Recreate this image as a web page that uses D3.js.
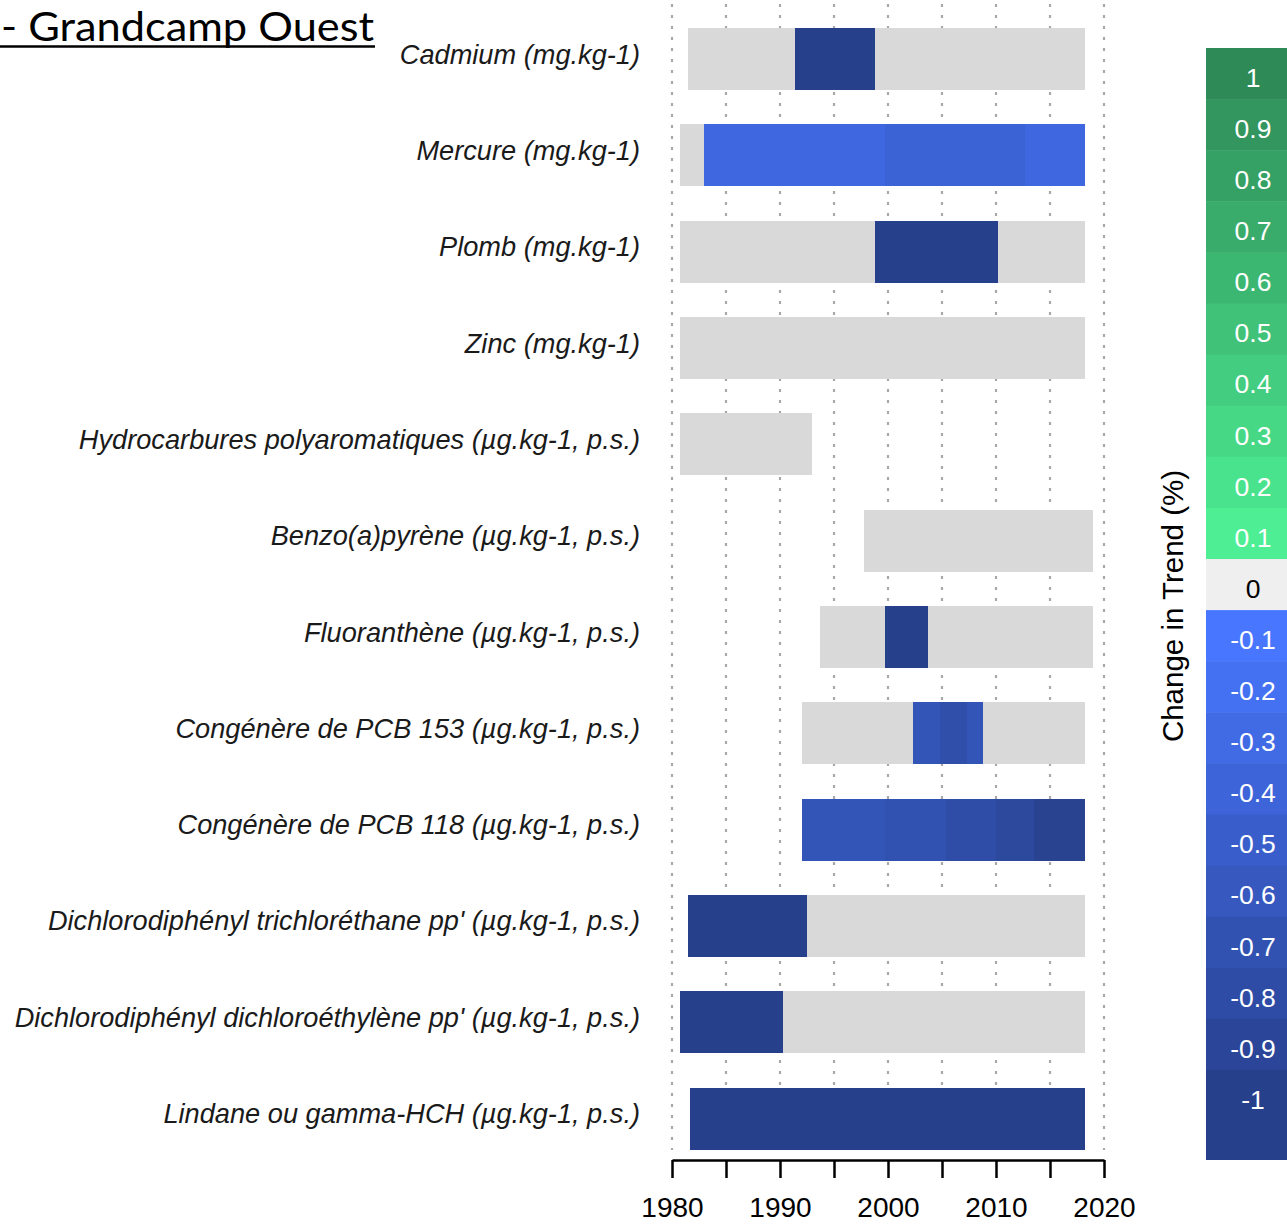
<!DOCTYPE html>
<html><head><meta charset="utf-8">
<script src="https://cdn.jsdelivr.net/npm/d3@7"></script>
<style>body{margin:0;background:#fff}svg{display:block}</style>
</head><body>
<script>
const title = "- Grandcamp Ouest";
const categories = [
 "Cadmium (mg.kg-1)",
 "Mercure (mg.kg-1)",
 "Plomb (mg.kg-1)",
 "Zinc (mg.kg-1)",
 "Hydrocarbures polyaromatiques (µg.kg-1, p.s.)",
 "Benzo(a)pyrène (µg.kg-1, p.s.)",
 "Fluoranthène (µg.kg-1, p.s.)",
 "Congénère de PCB 153 (µg.kg-1, p.s.)",
 "Congénère de PCB 118 (µg.kg-1, p.s.)",
 "Dichlorodiphényl trichloréthane pp' (µg.kg-1, p.s.)",
 "Dichlorodiphényl dichloroéthylène pp' (µg.kg-1, p.s.)",
 "Lindane ou gamma-HCH (µg.kg-1, p.s.)"
];
// segments: [category index, start year, end year, change in trend]
const segments = [
 [0, 1981.5, 1991.4, 0], [0, 1991.4, 1998.8, -1], [0, 1998.8, 2018.2, 0],
 [1, 1980.7, 1983.0, 0], [1, 1983.0, 1999.7, -0.35], [1, 1999.7, 2012.7, -0.42], [1, 2012.7, 2018.2, -0.35],
 [2, 1980.7, 1998.8, 0], [2, 1998.8, 2010.2, -1], [2, 2010.2, 2018.2, 0],
 [3, 1980.7, 2018.2, 0],
 [4, 1980.7, 1993.0, 0],
 [5, 1997.8, 2019.0, 0],
 [6, 1993.7, 1999.7, 0], [6, 1999.7, 2003.7, -1], [6, 2003.7, 2019.0, 0],
 [7, 1992.0, 2002.3, 0], [7, 2002.3, 2004.8, -0.65], [7, 2004.8, 2007.3, -0.75], [7, 2007.3, 2008.8, -0.65], [7, 2008.8, 2018.2, 0],
 [8, 1992.0, 1999.7, -0.65], [8, 1999.7, 2005.4, -0.7], [8, 2005.4, 2010.0, -0.78], [8, 2010.0, 2013.5, -0.85], [8, 2013.5, 2018.2, -0.95],
 [9, 1981.5, 1992.5, -1], [9, 1992.5, 2018.2, 0],
 [10, 1980.7, 1990.3, -1], [10, 1990.3, 2018.2, 0],
 [11, 1981.7, 2018.2, -1]
];
const xTicks = [1980, 1985, 1990, 1995, 2000, 2005, 2010, 2015, 2020];
const legendValues = [1, 0.9, 0.8, 0.7, 0.6, 0.5, 0.4, 0.3, 0.2, 0.1, 0, -0.1, -0.2, -0.3, -0.4, -0.5, -0.6, -0.7, -0.8, -0.9, -1];
const legendLabels = ["1","0.9","0.8","0.7","0.6","0.5","0.4","0.3","0.2","0.1","0","-0.1","-0.2","-0.3","-0.4","-0.5","-0.6","-0.7","-0.8","-0.9","-1"];
const legendTitle = "Change in Trend (%)";

const W = 1287, H = 1226;
const svg = d3.select("body").append("svg").attr("width", W).attr("height", H);

const x = d3.scaleLinear().domain([1980, 2020]).range([672, 1104]);
const y = d3.scalePoint().domain(d3.range(categories.length)).range([59, 1118.5]);
const barH = 62;

const blue = d3.scaleLinear().domain([-1, -0.1]).range(["#27408b", "#4876ff"]).interpolate(d3.interpolateRgb).clamp(true);
const green = d3.scaleLinear().domain([0.1, 1]).range(["#4eee94", "#2e8b57"]).interpolate(d3.interpolateRgb).clamp(true);
const color = v => v === 0 ? "#d9d9d9" : (v < 0 ? blue(v) : green(v));

// gridlines
svg.append("g").selectAll("line").data(xTicks).join("line")
  .attr("x1", d => x(d)).attr("x2", d => x(d))
  .attr("y1", 4).attr("y2", 1150)
  .attr("stroke", "#a8a8a8").attr("stroke-width", 2.2)
  .attr("stroke-dasharray", "3,8");

// bars
svg.append("g").attr("shape-rendering", "crispEdges").selectAll("rect").data(segments).join("rect")
  .attr("x", d => x(d[1])).attr("width", d => x(d[2]) - x(d[1]))
  .attr("y", d => y(d[0]) - barH / 2).attr("height", barH)
  .attr("fill", d => color(d[3]));

// category labels
svg.append("g").selectAll("text").data(categories).join("text")
  .attr("x", 640).attr("y", (d, i) => y(i))
  .attr("dy", "0.17em")
  .attr("text-anchor", "end")
  .attr("font-family", "'Liberation Sans', Arial, sans-serif")
  .attr("font-style", "italic")
  .attr("font-size", 27.2)
  .attr("fill", "#1a1a1a")
  .text(d => d);

// axis
const axis = d3.axisBottom(x).tickValues(xTicks).tickSize(18).tickSizeOuter(0)
  .tickFormat(d => d % 10 === 0 ? d : "");
const gx = svg.append("g").attr("transform", "translate(0,1160)").call(axis);
gx.select(".domain").attr("stroke", "#000").attr("stroke-width", 2.5);
gx.selectAll(".tick line").attr("stroke", "#000").attr("stroke-width", 2.5);
gx.selectAll(".tick text").attr("font-family", "'Liberation Sans', Arial, sans-serif")
  .attr("font-size", 28).attr("fill", "#000").attr("y", 37).attr("dy", "0.71em");

// legend
const cellTop = 48, cellStep = 51.1;
const lg = svg.append("g");
lg.selectAll("rect").data(legendValues).join("rect")
  .attr("x", 1206).attr("width", 100)
  .attr("y", (d, i) => cellTop + i * cellStep)
  .attr("height", (d, i) => i === legendValues.length - 1 ? 1160 - (cellTop + i * cellStep) : cellStep + 0.5)
  .attr("fill", d => d === 0 ? "#efefef" : color(d));
lg.selectAll("text").data(legendLabels).join("text")
  .attr("x", 1253).attr("y", (d, i) => cellTop + i * cellStep + cellStep / 2 + 4)
  .attr("dy", "0.35em")
  .attr("text-anchor", "middle")
  .attr("font-family", "'Liberation Sans', Arial, sans-serif")
  .attr("font-size", 26.5)
  .attr("fill", (d, i) => legendValues[i] === 0 ? "#000" : "#fff")
  .text(d => d);
svg.append("text")
  .attr("transform", "translate(1173,606) rotate(-90)")
  .attr("dy", "0.35em")
  .attr("text-anchor", "middle")
  .attr("font-family", "'Liberation Sans', Arial, sans-serif")
  .attr("font-size", 29.5)
  .attr("fill", "#000")
  .text(legendTitle);

// title
svg.append("text")
  .attr("x", 1).attr("y", 41)
  .attr("font-family", "Lato, 'Open Sans', sans-serif")
  .attr("font-size", 40)
  .attr("textLength", 373)
  .attr("lengthAdjust", "spacingAndGlyphs")
  .attr("fill", "#000")
  .text(title);
svg.append("line").attr("x1", 0).attr("x2", 375).attr("y1", 46.5).attr("y2", 46.5)
  .attr("stroke", "#000").attr("stroke-width", 2.5);
</script>
</body></html>
